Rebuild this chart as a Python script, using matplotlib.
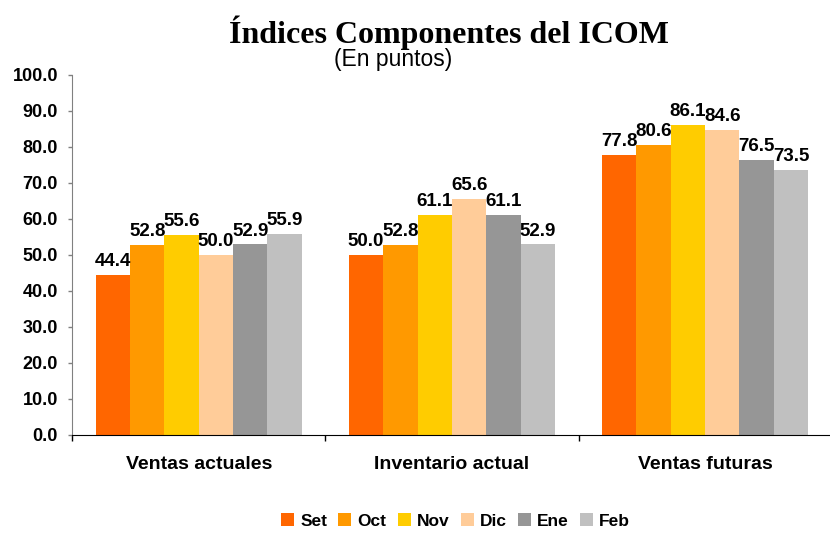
import numpy as np
import matplotlib
matplotlib.use('Agg')
import matplotlib.pyplot as plt

CATEGORIES = ['Ventas actuales', 'Inventario actual', 'Ventas futuras']
MONTHS = ['Set', 'Oct', 'Nov', 'Dic', 'Ene', 'Feb']
COLORS = ['#FF6600', '#FF9900', '#FFCC00', '#FFCC99', '#969696', '#C0C0C0']

set_vals = [44.4, 50.0, 77.8]
oct_vals = [52.8, 52.8, 80.6]
nov_vals = [55.6, 61.1, 86.1]
dic_vals = [50.0, 65.6, 84.6]
ene_vals = [52.9, 61.1, 76.5]
feb_vals = [55.9, 52.9, 73.5]
SERIES = [set_vals, oct_vals, nov_vals, dic_vals, ene_vals, feb_vals]

plt.rcParams['font.family'] = ['Liberation Sans', 'DejaVu Sans']


def go():
    fig = plt.figure(figsize=(8.3, 5.35), dpi=100)
    ax = fig.add_axes([0.087, 0.187, 0.915, 0.673])

    x = np.arange(len(CATEGORIES))
    w = 0.1357
    for i, (name, vals) in enumerate(zip(MONTHS, SERIES)):
        pos = x + (i - 2.5) * w
        bars = ax.bar(pos, vals, w, color=COLORS[i], label=name, linewidth=0)
        ax.bar_label(bars, fmt='%.1f', padding=3.5, fontsize=13.5,
                     fontweight='bold')

    ax.set_ylim(0, 100)
    ax.set_yticks(np.arange(0, 101, 10))
    ax.set_yticklabels(['%.1f' % v for v in np.arange(0, 101, 10)],
                       fontsize=13, fontweight='bold')
    ax.tick_params(axis='y', direction='out', length=3.2, width=1,
                   color='#808080', pad=7)

    ax.set_xlim(-0.5, 2.5)
    ax.set_xticks([-0.5, 0.5, 1.5])
    ax.set_xticklabels([])
    ax.tick_params(axis='x', which='major', direction='out', length=4.5,
                   width=1, color='black')
    ax.set_xticks(x, minor=True)
    ax.set_xticklabels(CATEGORIES, minor=True, fontsize=14,
                       fontweight='bold')
    ax.tick_params(axis='x', which='minor', length=0, pad=15)

    for s in ['top', 'right']:
        ax.spines[s].set_visible(False)
    ax.spines['left'].set_color('#808080')
    ax.spines['bottom'].set_color('black')

    fig.text(0.541, 0.919, 'Índices Componentes del ICOM',
             family=['Liberation Serif', 'DejaVu Serif'], fontsize=23,
             fontweight='bold', ha='center', va='baseline')
    fig.text(0.474, 0.876, '(En puntos)', fontsize=16.5, ha='center',
             va='baseline')

    fig.legend(loc='center', bbox_to_anchor=(0.549, 0.026), ncol=6,
               frameon=False, prop={'weight': 'bold', 'size': 12.5},
               handlelength=0.75, handleheight=0.75,
               handletextpad=0.35, columnspacing=0.65)

    fig.savefig('out.png', dpi=100)
    plt.close(fig)


go()
